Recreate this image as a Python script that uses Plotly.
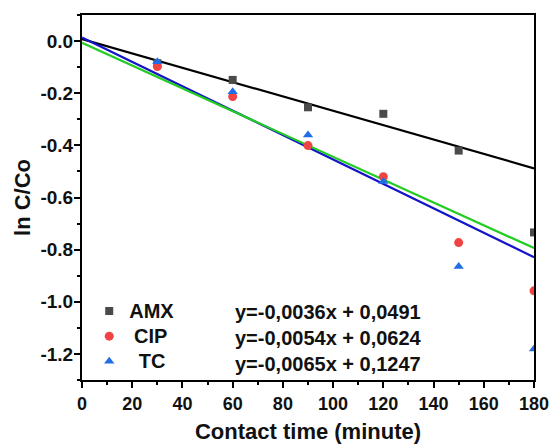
import plotly.graph_objects as go

# Contact time (minutes) and ln(C/Co) for each antibiotic
contact_time = [30, 60, 90, 120, 150, 180]
amx_ln = [-0.085, -0.149, -0.254, -0.279, -0.420, -0.734]
cip_ln = [-0.098, -0.213, -0.401, -0.520, -0.773, -0.958]
tc_ln = [-0.079, -0.194, -0.360, -0.539, -0.865, -1.181]

# Linear trend lines (slope, intercept) as plotted
fit_x = [0, 180]
amx_fit = (-0.002756, 0.008)
cip_fit = (-0.004375, -0.0065)
tc_fit = (-0.004683, 0.014)

series_names = ["AMX", "CIP", "TC"]
equations = [
    "y=-0,0036x + 0,0491",
    "y=-0,0054x + 0,0624",
    "y=-0,0065x + 0,1247",
]

x_ticks = list(range(0, 181, 20))
y_ticks = [0.0, -0.2, -0.4, -0.6, -0.8, -1.0, -1.2]
y_tick_text = ["0.0", "-0.2", "-0.4", "-0.6", "-0.8", "-1.0", "-1.2"]

FONT = "Liberation Sans, Arial, sans-serif"
NBSP = "\u00a0"


def line_values(fit):
    slope, intercept = fit
    return [slope * x + intercept for x in fit_x]


def legend_label(name, pad):
    # larger label text inside a compact legend row
    return NBSP * pad + f'<span style="font-size:20px">{name}</span>'


fig = go.Figure()

# trend lines
fig.add_trace(go.Scatter(x=fit_x, y=line_values(amx_fit), mode="lines",
                         line=dict(color="#000000", width=2.2), showlegend=False))
fig.add_trace(go.Scatter(x=fit_x, y=line_values(tc_fit), mode="lines",
                         line=dict(color="#1414c8", width=2.2), showlegend=False))
fig.add_trace(go.Scatter(x=fit_x, y=line_values(cip_fit), mode="lines",
                         line=dict(color="#22cc22", width=2.2), showlegend=False))

# measured points
fig.add_trace(go.Scatter(x=contact_time, y=amx_ln, mode="markers",
                         name=legend_label(series_names[0], 0),
                         marker=dict(symbol="square", size=8, color="#4a4a4a")))
fig.add_trace(go.Scatter(x=contact_time, y=cip_ln, mode="markers",
                         name=legend_label(series_names[1], 1),
                         marker=dict(symbol="circle", size=9, color="#f04444")))
fig.add_trace(go.Scatter(x=contact_time, y=tc_ln, mode="markers",
                         name=legend_label(series_names[2], 2),
                         marker=dict(symbol="triangle-up", size=9, color="#1f6ee6")))

# equation labels next to the legend entries
for i, eq in enumerate(equations):
    fig.add_annotation(x=0.334, y=0.186 - i * 0.0712, xref="paper", yref="paper",
                       text=eq, showarrow=False, xanchor="left", yanchor="middle",
                       font=dict(family=FONT, size=20, color="#111111", weight="bold"))

axis_common = dict(
    showline=True, linecolor="#000000", linewidth=2, mirror=True,
    ticks="outside", ticklen=6, tickwidth=2, tickcolor="#000000",
    showgrid=False, zeroline=False, automargin=False,
    ticklabeloverflow="allow",
)

fig.update_xaxes(range=[0, 180], tickvals=x_ticks,
                 tickfont=dict(family=FONT, size=18, color="#111111", weight="bold"),
                 minor=dict(dtick=10, ticks="outside", ticklen=3, tickwidth=2, tickcolor="#000000"),
                 title=dict(text="Contact time (minute)", standoff=18,
                            font=dict(family=FONT, size=22, color="#111111", weight="bold")),
                 **axis_common)
fig.update_yaxes(range=[-1.3, 0.1], tickvals=y_ticks, ticktext=y_tick_text,
                 tickfont=dict(family=FONT, size=19, color="#111111", weight="bold"),
                 ticklabelstandoff=-3,
                 minor=dict(dtick=0.1, ticks="outside", ticklen=3, tickwidth=2, tickcolor="#000000"),
                 title=dict(text="ln C/Co", standoff=4,
                            font=dict(family=FONT, size=22, color="#111111", weight="bold")),
                 **axis_common)

fig.update_layout(
    width=549, height=444,
    margin=dict(l=82, r=15, t=15, b=64),
    paper_bgcolor="#ffffff", plot_bgcolor="#ffffff",
    legend=dict(x=0.016, y=0.237, xanchor="left", yanchor="top",
                bgcolor="rgba(0,0,0,0)", borderwidth=0, tracegroupgap=0,
                font=dict(family=FONT, size=17, color="#111111", weight="bold")),
)

fig.write_html("out.html")
